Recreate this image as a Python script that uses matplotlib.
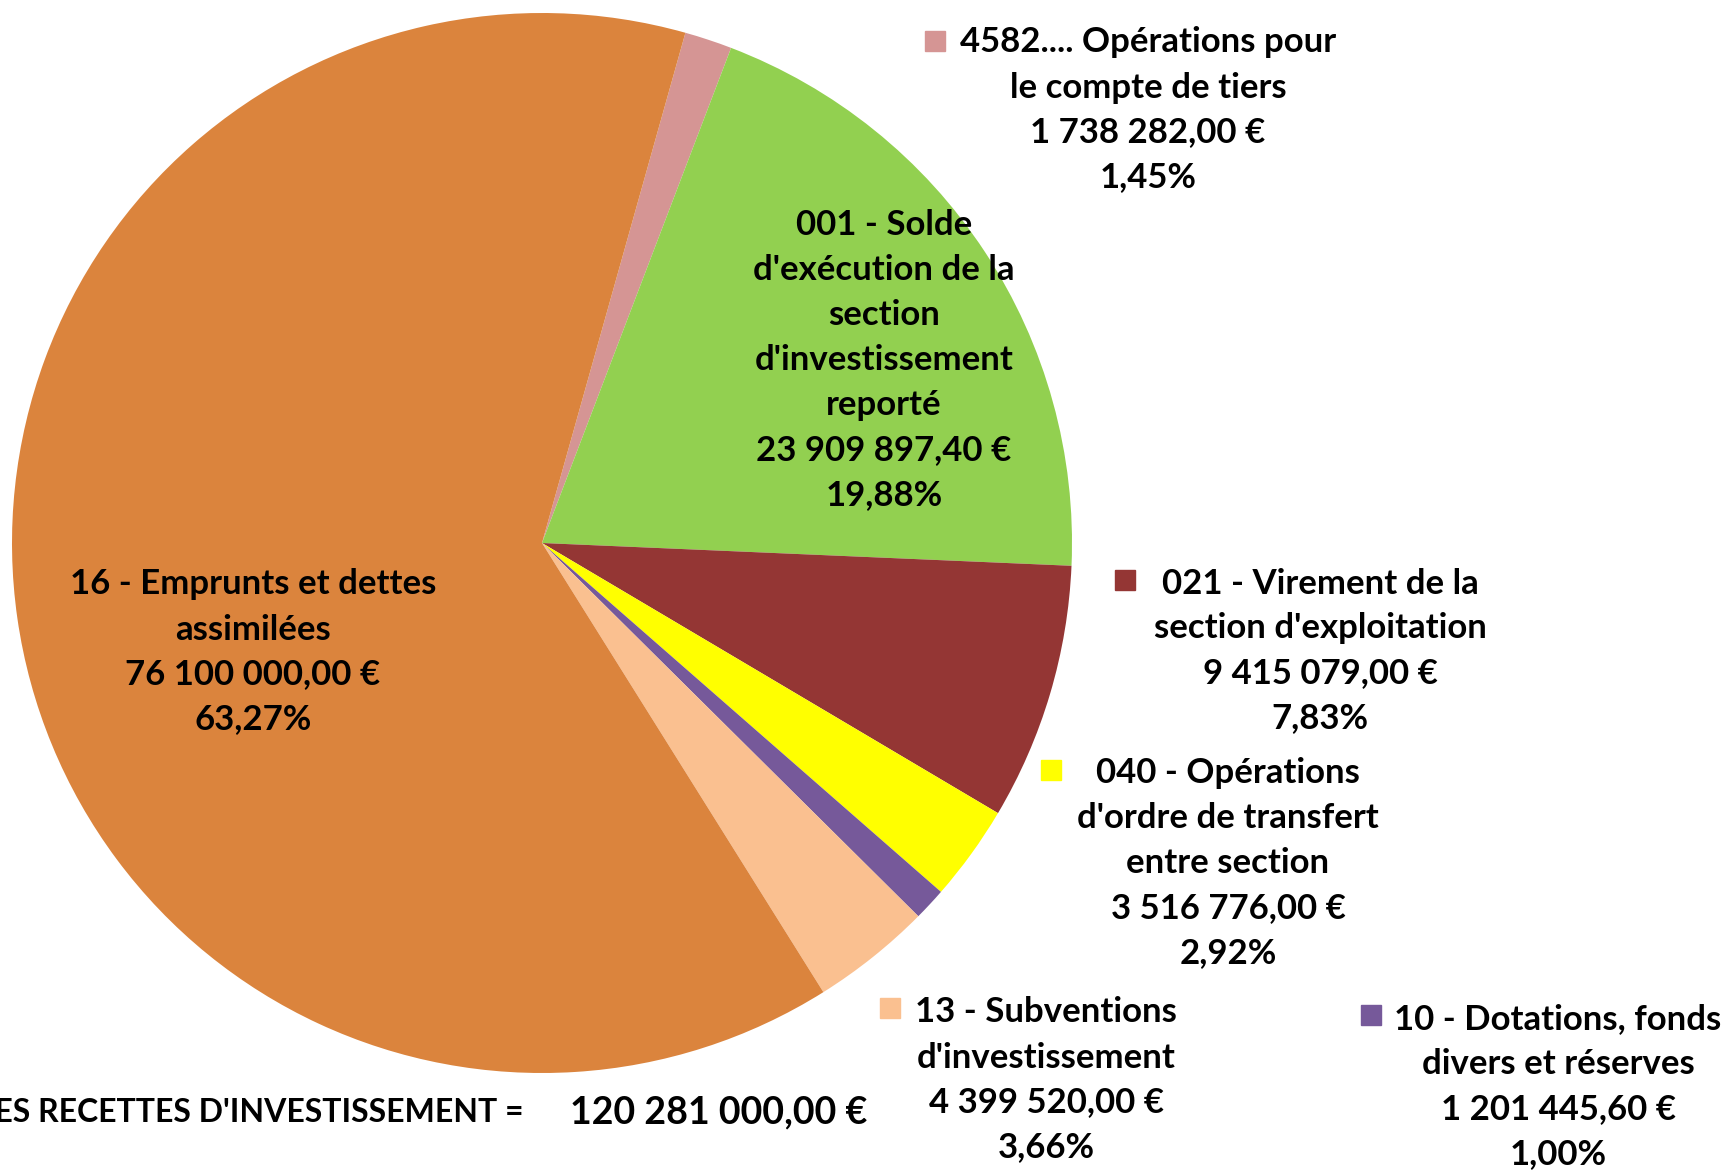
import matplotlib.pyplot as plt
from matplotlib.patches import Rectangle

plt.rcParams['font.family'] = ['Lato', 'DejaVu Sans']

# data, in drawing order (clockwise from the pink slice)
codes = ["4582.... Opérations pour\nle compte de tiers",
         "001 - Solde\nd'exécution de la\nsection\nd'investissement\nreporté",
         "021 - Virement de la\nsection d'exploitation",
         "040 - Opérations\nd'ordre de transfert\nentre section",
         "10 - Dotations, fonds\ndivers et réserves",
         "13 - Subventions\nd'investissement",
         "16 - Emprunts et dettes\nassimilées"]
amounts = [1738282.00, 23909897.40, 9415079.00, 3516776.00,
           1201445.60, 4399520.00, 76100000.00]
colors = ["#D59594", "#92D050", "#943634", "#FFFF00",
          "#76599A", "#FAC090", "#DB843D"]
total = 120281000.00

W, H = 1726, 1171


def euro(v):
    s = f"{v:,.2f}".replace(",", " ").replace(".", ",")
    return s + " €"


def pct(v):
    return f"{v / total * 100:.2f}%".replace(".", ",")


fig = plt.figure(figsize=(W / 100, H / 100), dpi=100)
cx, cy, r = 542, 543, 530
ax = fig.add_axes([(cx - r) / W, 1 - (cy + r) / H, 2 * r / W, 2 * r / H])
ax.pie(amounts, colors=colors, startangle=74.3, counterclock=False,
       radius=1, wedgeprops=dict(linewidth=0))
ax.set_xlim(-1, 1)
ax.set_ylim(-1, 1)
ax.axis('off')

# label placement in pixels: (text centre x, text centre y, key square x, key square y)
places = [(1148, 110, 935, 41),
          (884, 360, None, None),
          (1320, 651, 1125, 580),
          (1228, 863, 1051, 770),
          (1558, 1087, 1371, 1015),
          (1046, 1080, 890, 1008),
          (253, 652, None, None)]

fs = 25
for code, val, col, (tx, ty, sx, sy) in zip(codes, amounts, colors, places):
    txt = f"{code}\n{euro(val)}\n{pct(val)}"
    fig.text(tx / W, 1 - ty / H, txt, ha='center', va='center',
             multialignment='center', fontsize=fs, fontweight='bold',
             linespacing=1.5)
    if sx is not None:
        s = 20
        fig.add_artist(Rectangle(((sx - s / 2) / W, 1 - (sy + s / 2) / H),
                                 s / W, s / H, color=col,
                                 transform=fig.transFigure))

fig.text(524 / W, 1 - 1112 / H, "TOTAL DES RECETTES D'INVESTISSEMENT =",
         ha='right', va='center', fontsize=23, fontweight='bold')
fig.text(570 / W, 1 - 1112 / H, euro(total), ha='left', va='center',
         fontsize=27, fontweight='bold')

fig.savefig('out.png', dpi=100, facecolor='white')
